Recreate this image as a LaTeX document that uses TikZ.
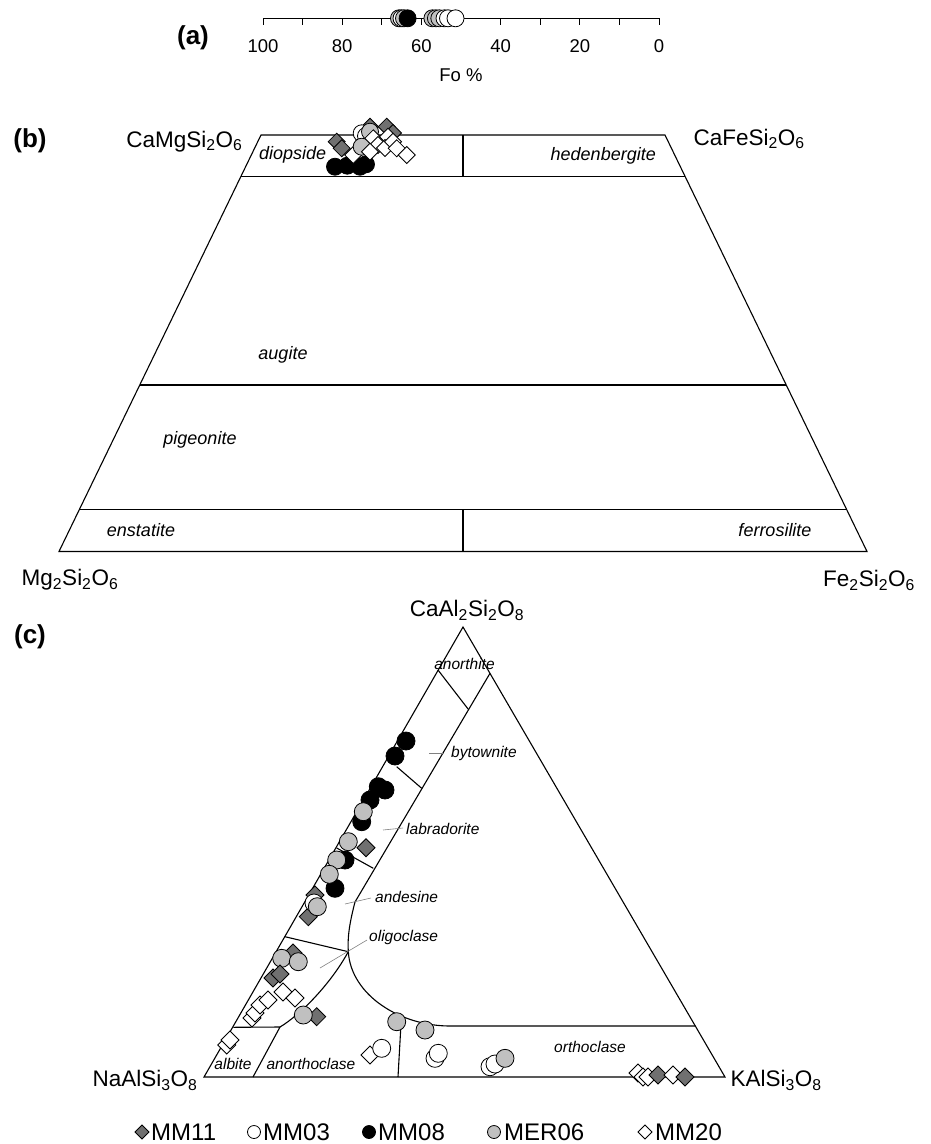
\documentclass[tikz,border=0pt]{standalone}
\usepackage{fontspec}
\setmainfont{Liberation Sans}
\definecolor{dg}{RGB}{112,112,112}
\definecolor{lg}{RGB}{192,192,192}
\newcommand\mysize[1]{\fontsize{#1}{#1}\selectfont}
\newlength\mr
\newcommand\Ci[3]{\filldraw[mk,fill=#3] (#1,#2) circle[radius=\mr];}
\newcommand\Di[3]{\filldraw[mk,fill=#3] (#1,#2) +(0,\mr) -- +(\mr,0) -- +(0,-\mr) -- +(-\mr,0) -- cycle;}
\begin{document}
\begin{tikzpicture}[x=1pt,y=-1pt,
  frame/.style={line width=1.1pt,line join=miter},
  leader/.style={line width=0.6pt,draw=gray},
  mk/.style={line width=0.8pt,draw=black},
  tick/.style={font=\mysize{18.5},anchor=center},
  chem/.style={font=\mysize{22.5}},
  tag/.style={font=\bfseries\mysize{26}},
  fieldb/.style={font=\itshape\mysize{18}},
  fieldc/.style={font=\itshape\mysize{15.5}},
  leg/.style={font=\mysize{24},anchor=west,inner sep=0pt}]
\useasboundingbox (0,0) rectangle (931,1144);

%% ---------------- (a) ----------------
\node[tag] (ta) at (193,38) {(a)};
\coordinate (a0) at (263,18.3);
\coordinate (a1) at (659,18.3);
\draw[line width=1pt] (a0) -- (a1);
\foreach \k in {0,...,10}{\draw[line width=1pt] (263+39.6*\k,18.3) -- (263+39.6*\k,24.5);}
\foreach \k/\v in {0/100,1/80,2/60,3/40,4/20,5/0}{\node[tick] (al\k) at (263+79.2*\k,46.5) {\v};}
\node[tick] (fo) at (461,75) {Fo \%};
\setlength\mr{8.5pt}
\Ci{399}{18.3}{lg}\Ci{401.5}{18.3}{white}\Ci{404}{18.3}{lg}\Ci{407.6}{18.3}{black}
\Ci{432.4}{18.3}{lg}\Ci{435.9}{18.3}{lg}\Ci{439.3}{18.3}{lg}\Ci{444.5}{18.3}{white}\Ci{448}{18.3}{white}\Ci{455.5}{18.3}{white}

%% ---------------- (b) ----------------
\node[tag] (tb) at (30,141) {(b)};
\coordinate (TL) at (261,135);
\coordinate (TR) at (665,135);
\coordinate (BR) at (867,551.5);
\coordinate (BL) at (59,551.5);
\draw[frame] (TL) -- (TR) -- (BR) -- (BL) -- cycle;
\coordinate (w45l) at (240.8,176.6); \coordinate (w45r) at (685.2,176.6);
\coordinate (w20l) at (139.8,385);   \coordinate (w20r) at (786.2,385);
\coordinate (w5l) at (79.2,509.9);   \coordinate (w5r) at (846.8,509.9);
\draw[frame] (w45l) -- (w45r);
\draw[frame] (w20l) -- (w20r);
\draw[frame] (w5l) -- (w5r);
\coordinate (m1) at (463,135); \coordinate (m2) at (463,176.6);
\coordinate (m3) at (463,509.9); \coordinate (m4) at (463,551.5);
\draw[frame] (m1) -- (m2);
\draw[frame] (m3) -- (m4);
\node[chem,anchor=base east] (cmg) at (246,147) {CaMgSi\textsubscript{2}O\textsubscript{6}};
\node[chem,anchor=base west] (cfe) at (690,145) {CaFeSi\textsubscript{2}O\textsubscript{6}};
\node[chem] (mg) at (70,580) {Mg\textsubscript{2}Si\textsubscript{2}O\textsubscript{6}};
\node[chem] (fe) at (869,580) {Fe\textsubscript{2}Si\textsubscript{2}O\textsubscript{6}};
\node[fieldb,anchor=west,inner sep=0pt] (di) at (259,155) {diopside};
\node[fieldb,anchor=east,inner sep=0pt] (hd) at (656,156) {hedenbergite};
\node[fieldb] (au) at (283,355) {augite};
\node[fieldb] (pg) at (200,440) {pigeonite};
\node[fieldb] (en) at (141,530) {enstatite};
\node[fieldb] (fs) at (775,530) {ferrosilite};
\setlength\mr{8.5pt}
\Di{336.7}{141.7}{dg}\Di{341.7}{148.3}{dg}
\Ci{335}{166.7}{black}\Ci{347.3}{165.7}{black}\Ci{360}{166.7}{black}\Ci{366}{164.3}{black}
\Di{353.3}{155}{white}
\Di{370}{126.7}{dg}\Di{386.7}{126.7}{dg}
\Ci{361.7}{133.3}{white}\Ci{366}{136}{white}\Ci{370}{131.7}{lg}
\Ci{361.7}{146.7}{lg}
\Di{393}{133}{dg}
\Di{373.3}{138.3}{white}\Di{378}{145}{white}\Di{370}{151.7}{white}
\Di{388}{136.7}{white}\Di{385}{148}{white}\Di{393}{141.7}{white}
\Di{396.7}{148.3}{white}\Di{406.7}{155}{white}

%% ---------------- (c) ----------------
\node[tag] (tc) at (30,637) {(c)};
\coordinate (L) at (204,1077);
\coordinate (R) at (725,1077);
\coordinate (A) at (463,627);
\draw[frame] (L) -- (R) -- (A) -- cycle;
% plagioclase boundaries
\coordinate (p90a) at (438,670);   \coordinate (p90b) at (468.3,709.3);
\coordinate (o10a) at (490,673.3); \coordinate (o10b) at (355,902);
\coordinate (p70a) at (396.7,766.7); \coordinate (p70b) at (421.7,788.3);
\coordinate (p50a) at (336.7,848); \coordinate (p50b) at (373.3,868.3);
\coordinate (p30a) at (285,936.7); \coordinate (p30b) at (348.3,951.7);
\coordinate (p10a) at (233.3,1027.3); \coordinate (p10b) at (280,1027);
\coordinate (abb) at (253,1077);
\coordinate (node) at (348.3,951.7);
\coordinate (sv1) at (450,1026);
\coordinate (sv2) at (695.3,1026);
\coordinate (vtop) at (401.5,1015);
\coordinate (vbot) at (398,1077);
\draw[frame] (p90a) -- (p90b);
\draw[frame] (p70a) -- (p70b);
\draw[frame] (p50a) -- (p50b);
\draw[frame] (p30a) -- (p30b);
\draw[frame] (p10a) -- (p10b) -- (abb);
\draw[frame] (o10a) -- (o10b) .. controls (349,925) and (347.5,938) .. (node);
\draw[frame] (node) .. controls (330,985) and (300,1015) .. (p10b);
\draw[frame] (node) .. controls (351,995) and (400,1026) .. (sv1) -- (sv2);
\draw[frame] (vbot) -- (vtop);
% leaders
\coordinate (lby1) at (429,753); \coordinate (lby2) at (444,753);
\coordinate (lla1) at (383,830); \coordinate (lla2) at (403,828);
\coordinate (lan1) at (345,904); \coordinate (lan2) at (371,898);
\coordinate (lol1) at (320,968); \coordinate (lol2) at (367,940);
\draw[leader] (lby1) -- (lby2);
\draw[leader] (lla1) -- (lla2);
\draw[leader] (lan1) -- (lan2);
\draw[leader] (lol1) -- (lol2);
\node[chem] (an) at (467,610) {CaAl\textsubscript{2}Si\textsubscript{2}O\textsubscript{8}};
\node[chem,anchor=east] (ab) at (201,1080) {NaAlSi\textsubscript{3}O\textsubscript{8}};
\node[chem,anchor=west] (or) at (727,1080) {KAlSi\textsubscript{3}O\textsubscript{8}};
\node[fieldc] (fan) at (464.5,664) {anorthite};
\node[fieldc,anchor=west,inner sep=0pt] (fby) at (451,753) {bytownite};
\node[fieldc,anchor=west,inner sep=0pt] (fla) at (406,829) {labradorite};
\node[fieldc,anchor=west,inner sep=0pt] (fad) at (375,897) {andesine};
\node[fieldc,anchor=west,inner sep=0pt] (fol) at (369,937) {oligoclase};
\node[fieldc] (fal) at (233,1064) {albite};
\node[fieldc] (fac) at (311,1064) {anorthoclase};
\node[fieldc] (for) at (590,1047) {orthoclase};
\setlength\mr{9pt}
% plagioclase strip
\Ci{406}{741}{black}\Ci{395}{756}{black}
\Ci{378.3}{786.7}{black}\Ci{385}{790}{black}\Ci{370}{800}{black}
\Ci{361.7}{821.7}{black}\Ci{363.3}{811.7}{lg}
\Ci{345}{860}{black}\Ci{348.3}{841.7}{lg}\Di{366}{847.7}{dg}
\Ci{336.7}{860}{lg}\Ci{335}{888.3}{black}\Ci{329.3}{874.3}{lg}
\Di{315}{895}{dg}\Di{308.3}{916.7}{dg}\Ci{314}{903}{white}\Ci{317.3}{906.7}{lg}
\Di{293}{953}{dg}\Ci{281.7}{958.3}{lg}\Ci{298.3}{961.7}{lg}
\Di{273}{978}{dg}\Di{280}{974}{dg}
\Di{252}{1018}{white}\Di{255}{1013}{white}\Di{260}{1005}{white}\Di{268}{1000}{white}
\Di{283}{992}{white}\Di{295}{998}{white}
\Di{316.7}{1016.7}{dg}\Ci{303.3}{1015}{lg}
\Di{226.7}{1045}{white}\Di{230}{1040}{white}
% anorthoclase / orthoclase
\Di{370}{1055}{white}\Ci{381.7}{1048.3}{white}
\Ci{396.7}{1021.7}{lg}\Ci{425}{1030}{lg}
\Ci{435}{1058.3}{white}\Ci{438.3}{1053.3}{white}
\Ci{490}{1066.7}{white}\Ci{495}{1064}{white}\Ci{505}{1058.3}{lg}
\Di{638}{1073}{white}\Di{643}{1077}{white}\Di{648}{1077}{white}
\Di{658}{1075}{dg}\Di{673}{1075}{white}\Di{685}{1077}{dg}

%% ---------------- legend ----------------
\setlength\mr{7pt}
\Di{142}{1132}{dg}
\node[leg] (l1) at (151,1132) {MM11};
\setlength\mr{6.5pt}
\Ci{254}{1132}{white}
\node[leg] (l2) at (263,1132) {MM03};
\Ci{369}{1132}{black}
\node[leg] (l3) at (378,1132) {MM08};
\Ci{494}{1132}{lg}
\node[leg] (l4) at (504,1132) {MER06};
\setlength\mr{7pt}
\Di{645}{1132}{white}
\node[leg] (l5) at (655,1132) {MM20};
\end{tikzpicture}
\end{document}
